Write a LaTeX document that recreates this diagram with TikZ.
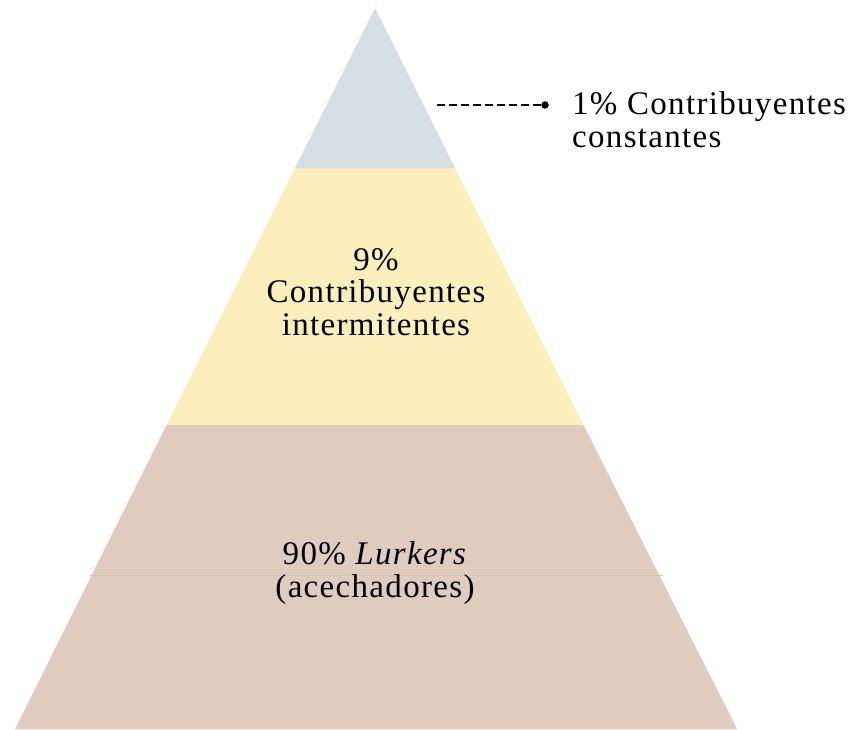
\documentclass[tikz,border=0pt]{standalone}
\usepackage{fontspec}
\setmainfont{Liberation Serif}[LetterSpace=4]
\definecolor{topc}{RGB}{214,222,228}
\definecolor{midc}{RGB}{253,238,190}
\definecolor{botc}{RGB}{223,204,190}
\definecolor{seamc}{RGB}{216,196,184}
\begin{document}
\begin{tikzpicture}[x=1pt,y=-1pt,
  lbl/.style={font=\fontsize{33}{32.5}\selectfont, inner sep=0pt, align=center},
  lbll/.style={font=\fontsize{33}{32.5}\selectfont, inner sep=0pt, align=left}]
\useasboundingbox (0,0) rectangle (856,729);
% layers
\coordinate (apex) at (375,8);
\coordinate (bl) at (15,729);
\coordinate (br) at (737,729);
\fill[botc] (166.5,425) -- (583.5,425) -- (br) -- (bl) -- cycle;
\fill[midc] (295,168) -- (455,168) -- (583.5,425) -- (166.5,425) -- cycle;
\fill[topc] (apex) -- (455,168) -- (295,168) -- cycle;
\draw[seamc, line width=0.7] (90,575) -- (663,575);
% labels
\node[lbl, anchor=base] (mid) at (376,335) {9\%\\Contribuyentes\\intermitentes};
\node[lbl, anchor=base] (bot) at (375,597) {90\% \textit{Lurkers}\\(acechadores)};
% connector
\coordinate (dstart) at (437,105);
\node[circle, fill=black, inner sep=0pt, minimum size=7.5] (dot) at (545,105) {};
\draw[line width=1.8, dash pattern=on 8 off 4] (dstart) -- (dot.center);
\node[lbll, anchor=base west] (top) at (572,147) {1\% Contribuyentes\\constantes};
\end{tikzpicture}
\end{document}
